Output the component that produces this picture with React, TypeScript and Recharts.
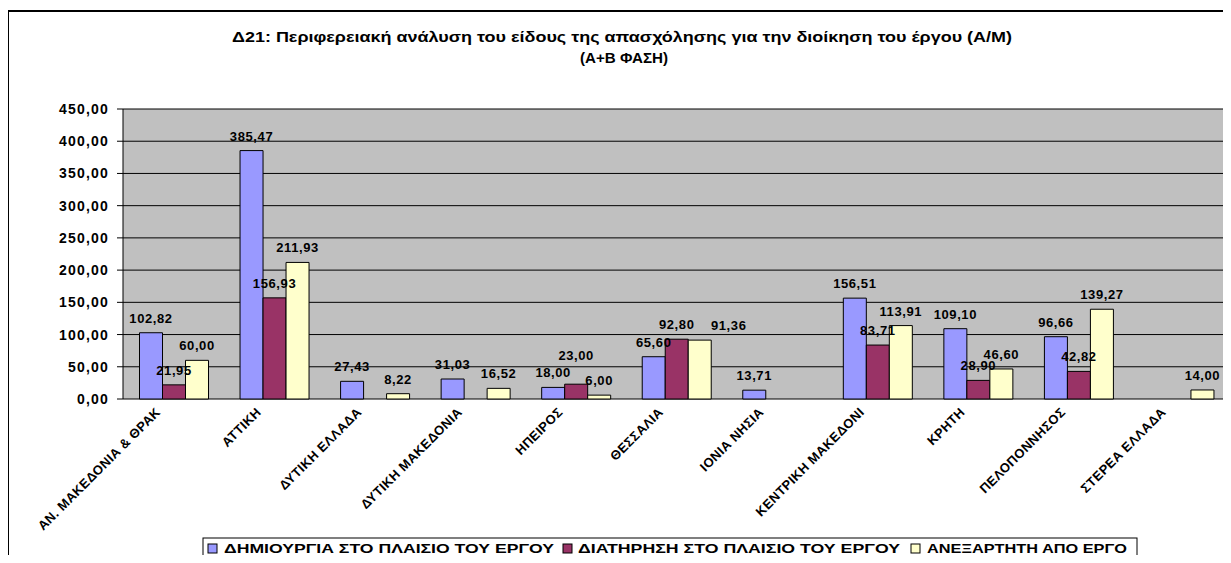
import React from "react";
import { BarChart, Bar, XAxis, YAxis, CartesianGrid, LabelList } from "recharts";

const regions = [
    "ΑΝ. ΜΑΚΕΔΟΝΙΑ & ΘΡΑΚ",
    "ΑΤΤΙΚΗ",
    "ΔΥΤΙΚΗ ΕΛΛΑΔΑ",
    "ΔΥΤΙΚΗ ΜΑΚΕΔΟΝΙΑ",
    "ΗΠΕΙΡΟΣ",
    "ΘΕΣΣΑΛΙΑ",
    "ΙΟΝΙΑ ΝΗΣΙΑ",
    "ΚΕΝΤΡΙΚΗ ΜΑΚΕΔΟΝΙ",
    "ΚΡΗΤΗ",
    "ΠΕΛΟΠΟΝΝΗΣΟΣ",
    "ΣΤΕΡΕΑ ΕΛΛΑΔΑ",
];
const creation = [102.82, 385.47, 27.43, 31.03, 18.0, 65.6, 13.71, 156.51, 109.1, 96.66, null];
const retention = [21.95, 156.93, null, null, 23.0, 92.8, null, 83.71, 28.9, 42.82, null];
const independent = [60.0, 211.93, 8.22, 16.52, 6.0, 91.36, null, 113.91, 46.6, 139.27, 14.0];

const yTicks = [0, 50, 100, 150, 200, 250, 300, 350, 400, 450];
const boundaryTicks = regions.map((_, i) => i).concat(regions.length);

const seriesNames = [
    "ΔΗΜΙΟΥΡΓΙΑ ΣΤΟ ΠΛΑΙΣΙΟ ΤΟΥ ΕΡΓΟΥ",
    "ΔΙΑΤΗΡΗΣΗ ΣΤΟ ΠΛΑΙΣΙΟ ΤΟΥ ΕΡΓΟΥ",
    "ΑΝΕΞΑΡΤΗΤΗ ΑΠΟ ΕΡΓΟ",
];
const seriesColors = ["#9999FF", "#993366", "#FFFFCC"];

const rows = regions.map((name, i) => ({
    name,
    creation: creation[i],
    retention: retention[i],
    independent: independent[i],
}));

const seriesByKey: Record<string, (number | null)[]> = { creation, retention, independent };

// Excel moved a couple of labels so they don't sit on top of each other
const labelNudge: Record<string, { dx?: number; dy?: number }> = {
    "retention|ΗΠΕΙΡΟΣ": { dy: -14 },
    "independent|ΘΕΣΣΑΛΙΑ": { dx: 29 },
};

const font = "'Liberation Sans', Arial, sans-serif";
const fmt = (v: number) => v.toFixed(2).replace(".", ",");

function RegionTick({ x, y, payload }: any) {
    const tx = x - 12;
    const ty = y + 6;
    return (
        <text
            x={tx}
            y={ty}
            transform={`rotate(-45, ${tx}, ${ty})`}
            textAnchor="end"
            fontSize={13}
            fontWeight="bold"
            fontFamily={font}
            letterSpacing={0.4}
            fill="#000"
        >
            {payload.value}
        </text>
    );
}

function ValueTick({ x, y, payload }: any) {
    return (
        <text x={x} y={y + 5} textAnchor="end" fontSize={14} fontWeight="bold" fontFamily={font} letterSpacing={1.2} fill="#000">
            {fmt(payload.value)}
        </text>
    );
}

const barValue = (key: string) =>
    function BarValue({ x, y, width, value }: any) {
        if (value == null) return null;
        // null bars are skipped, so find the region from the value itself
        const region = regions[seriesByKey[key].indexOf(value)];
        const n = labelNudge[`${key}|${region}`] || {};
        return (
            <text
                x={x + width / 2 + (n.dx || 0)}
                y={y - 10 + (n.dy || 0)}
                textAnchor="middle"
                fontSize={13}
                fontWeight="bold"
                fontFamily={font}
                letterSpacing={0.6}
                fill="#000"
            >
                {fmt(value)}
            </text>
        );
    };

const CreationLabel = barValue("creation");
const RetentionLabel = barValue("retention");
const IndependentLabel = barValue("independent");

const legendItems = [
    { marker: 208, text: 224, len: 330 },
    { marker: 563, text: 578, len: 322 },
    { marker: 911, text: 927, len: 200 },
];

export default function App() {
    return (
        <div style={{ margin: -8, width: 1231, height: 563, position: "relative", overflow: "hidden", background: "#fff" }}>
            <BarChart
                width={1231}
                height={563}
                data={rows}
                margin={{ top: 109, right: 2, bottom: 0, left: 43 }}
                barCategoryGap={16.5}
                barGap={0}
            >
                <CartesianGrid xAxisId="cat" vertical={false} stroke="#000" fill="#C0C0C0" fillOpacity={1} />
                <XAxis
                    xAxisId="marks"
                    type="number"
                    domain={[0, regions.length]}
                    ticks={boundaryTicks}
                    height={0}
                    tick={false}
                    tickSize={5}
                    axisLine={{ stroke: "#000" }}
                    tickLine={{ stroke: "#000" }}
                />
                <XAxis
                    xAxisId="cat"
                    dataKey="name"
                    height={164}
                    axisLine={false}
                    tickLine={false}
                    interval={0}
                    tick={<RegionTick />}
                />
                <YAxis
                    domain={[0, 450]}
                    ticks={yTicks}
                    width={80}
                    tickSize={6}
                    tickMargin={8}
                    axisLine={{ stroke: "#000" }}
                    tickLine={{ stroke: "#000" }}
                    tick={<ValueTick />}
                    interval={0}
                />
                <YAxis yAxisId="edge" orientation="right" width={0} tick={false} tickLine={false} axisLine={{ stroke: "#808080" }} />
                <Bar xAxisId="cat" dataKey="creation" name={seriesNames[0]} fill={seriesColors[0]} stroke="#000" strokeWidth={1} isAnimationActive={false}>
                    <LabelList dataKey="creation" content={<CreationLabel />} />
                </Bar>
                <Bar xAxisId="cat" dataKey="retention" name={seriesNames[1]} fill={seriesColors[1]} stroke="#000" strokeWidth={1} isAnimationActive={false}>
                    <LabelList dataKey="retention" content={<RetentionLabel />} />
                </Bar>
                <Bar xAxisId="cat" dataKey="independent" name={seriesNames[2]} fill={seriesColors[2]} stroke="#000" strokeWidth={1} isAnimationActive={false}>
                    <LabelList dataKey="independent" content={<IndependentLabel />} />
                </Bar>
            </BarChart>
            <svg width={1231} height={563} style={{ position: "absolute", left: 0, top: 0, pointerEvents: "none" }}>
                <rect x={8} y={11} width={1300} height={600} fill="none" stroke="#000" strokeWidth={2} />
                <text x={622} y={42} textAnchor="middle" textLength={780} lengthAdjust="spacingAndGlyphs" fontSize={14} fontWeight="bold" fontFamily={font} fill="#000">
                    Δ21: Περιφερειακή ανάλυση του είδους της απασχόλησης για την διοίκηση του έργου (Α/Μ)
                </text>
                <text x={624} y={63} textAnchor="middle" textLength={88} lengthAdjust="spacingAndGlyphs" fontSize={14.5} fontWeight="bold" fontFamily={font} fill="#000">
                    (Α+Β ΦΑΣΗ)
                </text>
                <rect x={203} y={538} width={934} height={40} fill="#fff" stroke="#000" strokeWidth={1} />
                {legendItems.map((it, i) => (
                    <g key={i}>
                        <rect x={it.marker} y={544} width={9} height={9} fill={seriesColors[i]} stroke="#000" strokeWidth={1} />
                        <text x={it.text} y={553} textLength={it.len} lengthAdjust="spacingAndGlyphs" fontSize={13} fontWeight="bold" fontFamily={font} fill="#000">
                            {seriesNames[i]}
                        </text>
                    </g>
                ))}
            </svg>
        </div>
    );
}
